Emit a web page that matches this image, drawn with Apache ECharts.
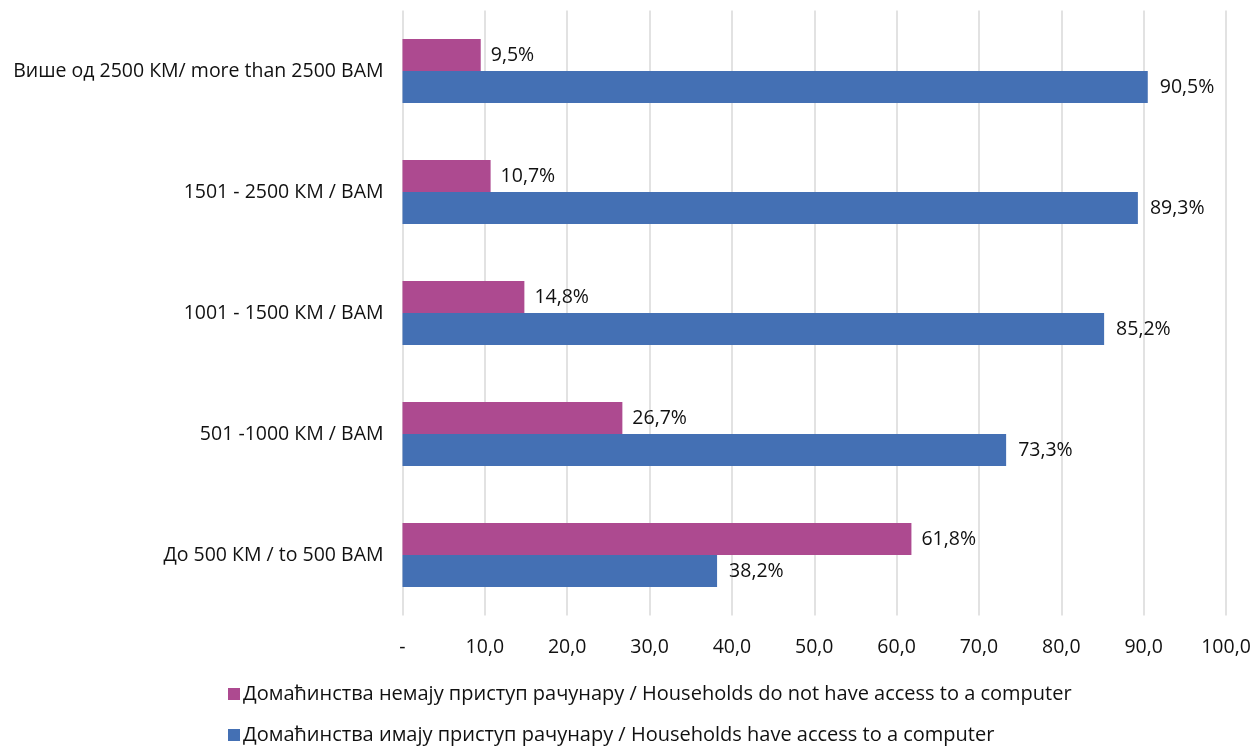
<!DOCTYPE html>
<html><head><meta charset="utf-8">
<script src="https://cdn.jsdelivr.net/npm/echarts@6/dist/echarts.min.js"></script>
<style>html,body{margin:0;padding:0;background:#fff}#c{width:1256px;height:747px}</style>
</head><body><div id="c"></div>
<script>
const categories = ["До 500 КМ / to 500 BAM", "501 -1000 КМ / BAM", "1001 - 1500 КМ / BAM", "1501 - 2500 КМ / BAM", "Више од 2500 КМ/ more than 2500 BAM"];
const noAccess = [61.8, 26.7, 14.8, 10.7, 9.5];
const access = [38.2, 73.3, 85.2, 89.3, 90.5];
const seriesNames = ["Домаћинства немају приступ рачунару / Households do not have access to a computer", "Домаћинства имају приступ рачунару / Households have access to a computer"];

const font = "'Open Sans', 'Noto Sans', sans-serif";
const fmt = v => v.toFixed(1).replace('.', ',') + '%';
const legendBase = {
  orient: 'horizontal', left: 228, padding: 0,
  itemWidth: 12, itemHeight: 12, icon: 'rect',
  textStyle: { fontFamily: font, fontSize: 20, lineHeight: 24, color: '#111', padding: [0, 0, 0, -2] }
};
const chart = echarts.init(document.getElementById('c'));
chart.setOption({
  animation: false,
  textStyle: { fontFamily: font },
  grid: { left: 402.5, right: 30, top: 10.5, bottom: 131.5, containLabel: false },
  legend: [
    Object.assign({}, legendBase, { top: 682, data: [seriesNames[0]] }),
    Object.assign({}, legendBase, { top: 723, data: [seriesNames[1]] })
  ],
  xAxis: {
    type: 'value', min: 0, max: 100, interval: 10,
    axisLine: { show: false }, axisTick: { show: false },
    splitLine: { show: true, lineStyle: { color: '#d9d9d9', width: 1.5 } },
    axisLabel: { fontFamily: font, fontSize: 19.5, color: '#111', margin: 22,
      formatter: v => v === 0 ? '-' : v.toFixed(1).replace('.', ',') }
  },
  yAxis: {
    type: 'category', data: categories,
    axisLine: { show: false }, axisTick: { show: false },
    axisLabel: { fontFamily: font, fontSize: 19.5, color: '#111', margin: 19 }
  },
  series: [
    { name: seriesNames[0], type: 'bar', data: noAccess, barGap: '0%', barCategoryGap: '47%',
      itemStyle: { color: '#ad4a90' },
      label: { show: true, position: 'right', distance: 10, fontFamily: font, fontSize: 19.5, color: '#111',
        formatter: p => fmt(p.value) } },
    { name: seriesNames[1], type: 'bar', data: access, barGap: '0%', barCategoryGap: '47%',
      itemStyle: { color: '#4470b4' },
      label: { show: true, position: 'right', distance: 12, fontFamily: font, fontSize: 19.5, color: '#111',
        formatter: p => fmt(p.value) } }
  ]
});
</script></body></html>
